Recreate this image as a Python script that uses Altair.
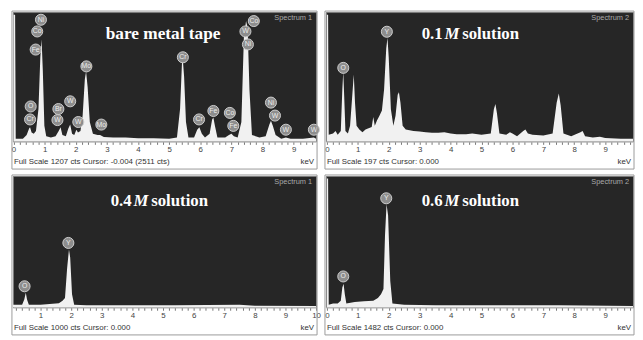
import altair as alt
import pandas as pd

# ---------------- data ----------------
# Panel 1: bare metal tape (Full Scale 1207 cts)
p1_kev = [0.00, 0.05, 0.07, 0.30, 0.42, 0.50, 0.53, 0.58, 0.65, 0.72, 0.80, 0.86, 0.90, 0.94, 0.99,
          1.05, 1.20, 1.35, 1.45, 1.51, 1.57, 1.68, 1.76, 1.82, 1.88, 1.95, 2.02, 2.07, 2.15, 2.22,
          2.29, 2.33, 2.38, 2.45, 2.55, 2.70, 2.78, 2.90, 3.20, 3.60, 4.00, 4.50, 5.00, 5.25, 5.35,
          5.41, 5.44, 5.48, 5.54, 5.62, 5.80, 5.90, 5.97, 6.05, 6.15, 6.30, 6.38, 6.42, 6.47, 6.55,
          6.80, 6.92, 7.00, 7.08, 7.20, 7.32, 7.40, 7.47, 7.52, 7.58, 7.66, 7.90, 8.10, 8.22, 8.27,
          8.33, 8.42, 8.60, 8.75, 8.90, 9.30, 9.65, 9.72]
p1_cts = [1183, 1183, 24, 24, 60, 121, 133, 84, 72, 97, 302, 785, 954, 664, 145,
          48, 36, 48, 97, 133, 60, 48, 121, 157, 72, 60, 109, 84, 97, 241,
          579, 652, 507, 181, 72, 60, 60, 42, 36, 36, 30, 30, 24, 36, 302,
          724, 760, 604, 181, 36, 36, 109, 133, 72, 36, 72, 205, 223, 145, 36,
          36, 60, 72, 48, 36, 181, 966, 1123, 1062, 483, 60, 36, 48, 157, 193,
          145, 60, 24, 36, 24, 24, 36, 24]
p1_lab_el = ["Ni", "Co", "Fe", "O", "Cr", "Br", "W", "W", "W", "Mo", "Mo", "Cr", "Cr", "Fe",
             "Co", "Fe", "W", "Co", "Ni", "Ni", "W", "W", "W"]
p1_lab_kev = [0.88, 0.76, 0.71, 0.55, 0.53, 1.44, 1.82, 1.41, 2.08, 2.34, 2.82, 5.44, 5.96, 6.42,
              6.95, 7.06, 7.45, 7.72, 7.53, 8.27, 8.40, 8.75, 9.65]
p1_lab_cts = [1135, 1026, 857, 326, 205, 302, 374, 199, 181, 700, 157, 785, 205, 284,
              266, 145, 1026, 1123, 905, 362, 241, 109, 109]

# Panel 2: 0.1 M solution (Full Scale 197 cts)
p2_kev = [0.00, 0.04, 0.06, 0.20, 0.28, 0.35, 0.45, 0.50, 0.53, 0.56, 0.60, 0.68, 0.75, 0.82, 0.87,
          0.91, 0.96, 1.05, 1.15, 1.25, 1.35, 1.45, 1.50, 1.55, 1.62, 1.70, 1.78, 1.85, 1.92, 1.96,
          2.00, 2.07, 2.15, 2.22, 2.29, 2.33, 2.38, 2.45, 2.55, 2.80, 3.00, 3.20, 3.40, 3.60, 3.80,
          4.00, 4.20, 4.50, 4.70, 5.00, 5.30, 5.40, 5.45, 5.50, 5.58, 5.80, 5.92, 6.00, 6.15, 6.35,
          6.42, 6.50, 6.65, 7.00, 7.30, 7.43, 7.50, 7.56, 7.65, 7.90, 8.20, 8.27, 8.35, 8.60, 8.83,
          9.00, 9.50, 9.90]
p2_cts = [193, 193, 10, 12, 16, 10, 16, 79, 106, 69, 16, 12, 24, 69, 102,
          59, 24, 18, 14, 18, 20, 22, 37, 24, 32, 39, 47, 79, 142, 158,
          128, 49, 24, 39, 71, 75, 59, 24, 18, 16, 15, 14, 13, 13, 14,
          12, 11, 11, 12, 10, 12, 49, 57, 43, 12, 10, 14, 12, 8, 16,
          18, 12, 10, 9, 12, 59, 73, 55, 12, 8, 14, 16, 8, 6, 7,
          5, 4, 4]
p2_lab_el = ["O", "Y"]
p2_lab_kev = [0.53, 1.94]
p2_lab_cts = [112, 167]

# Panel 3: 0.4 M solution (Full Scale 1000 cts)
p3_kev = [0.10, 0.40, 0.47, 0.52, 0.56, 0.62, 1.00, 1.30, 1.60, 1.72, 1.80, 1.87, 1.93, 1.97, 2.03,
          2.10, 2.50, 5.40, 7.50, 8.00, 10.00]
p3_cts = [20, 20, 60, 110, 60, 20, 20, 25, 30, 50, 70, 300, 440, 380, 100,
          20, 15, 15, 20, 12, 10]
p3_lab_el = ["O", "Y"]
p3_lab_kev = [0.48, 1.91]
p3_lab_cts = [160, 490]

# Panel 4: 0.6 M solution (Full Scale 1482 cts)
p4_kev = [0.00, 0.04, 0.06, 0.20, 0.35, 0.45, 0.50, 0.54, 0.58, 0.63, 0.90, 1.20, 1.50, 1.65, 1.75,
          1.83, 1.88, 1.93, 1.98, 2.05, 2.12, 2.50, 3.50, 5.50, 7.50, 9.90]
p4_cts = [1452, 1452, 30, 44, 44, 74, 222, 267, 148, 44, 59, 67, 74, 104, 148,
          207, 815, 1163, 1037, 296, 44, 30, 22, 22, 22, 15]
p4_lab_el = ["O", "Y"]
p4_lab_kev = [0.53, 1.92]
p4_lab_cts = [348, 1230]

full_scale = [1207, 197, 1000, 1482]
spectrum_names = ["Spectrum 1", "Spectrum 2", "Spectrum 1", "Spectrum 2"]
footers = ["Full Scale 1207 cts Cursor: -0.004  (2511 cts)",
           "Full Scale 197 cts Cursor: 0.000",
           "Full Scale 1000 cts Cursor: 0.000",
           "Full Scale 1482 cts Cursor: 0.000"]
titles = [[("bare metal tape", False)],
          [("0.1", False), ("M", True), ("solution", False)],
          [("0.4", False), ("M", True), ("solution", False)],
          [("0.6", False), ("M", True), ("solution", False)]]
x_domains = [[-0.02, 9.72], [-0.03, 9.9], [0.1, 10.0], [-0.03, 9.9]]

# ---------------- layout ----------------
title_x = [[94], [97, 120, 138], [99, 122, 140], [97, 120, 138]]
title_y = [22, 22, 25, 25]
widths = [307, 311, 307, 311]
heights = [131, 131, 133, 133]

LABEL_EXPR = "abs(datum.value - round(datum.value)) < 0.001 ? format(datum.value, 'd') : ''"


def one_text(txt, x, y, **kw):
    return alt.Chart(pd.DataFrame({"t": [txt]})).mark_text(**kw).encode(
        x=alt.value(x), y=alt.value(y), text="t:N")


def panel(i, kev, cts, lab_el, lab_kev, lab_cts):
    W, H = widths[i], heights[i]
    d0, d1 = x_domains[i]
    ticks = [round(k * 0.2, 1) for k in range(0, 51) if d0 <= round(k * 0.2, 1) <= d1]
    xenc = alt.X("kev:Q",
                 scale=alt.Scale(domain=[d0, d1], nice=False, zero=False),
                 axis=alt.Axis(values=ticks, labelExpr=LABEL_EXPR, title=None, grid=False,
                               tickSize=3, tickColor="#777", domainColor="#cfcfcf",
                               labelFontSize=8, labelColor="#444", labelFont="Liberation Sans",
                               labelPadding=1, labelFlush=False, labelOverlap=False))
    yenc = alt.Y("cts:Q", scale=alt.Scale(domain=[0, full_scale[i]], nice=False), axis=None)

    spec = alt.Chart(pd.DataFrame({"kev": kev, "cts": cts})).mark_area(
        color="#f1f1f1", interpolate="linear", clip=True, opacity=1).encode(x=xenc, y=yenc)

    labdf = pd.DataFrame({"el": lab_el, "kev": lab_kev, "cts": lab_cts})
    circ = alt.Chart(labdf).mark_circle(size=125, fill="#8d8d8d", stroke="#cdcdcd",
                                        strokeWidth=1, opacity=1).encode(x=xenc, y=yenc)
    ltxt = alt.Chart(labdf).mark_text(fontSize=7, color="#ececec", font="Liberation Sans",
                                      baseline="middle").encode(x=xenc, y=yenc, text="el:N")

    layers = [spec, circ, ltxt]
    for (txt, ital), tx in zip(titles[i], title_x[i]):
        layers.append(one_text(txt, tx, title_y[i], align="left", baseline="middle",
                               font="Liberation Serif", fontWeight="bold",
                               fontStyle="italic" if ital else "normal",
                               fontSize=17.5 if i == 0 else 17, color="#ffffff"))
    layers.append(one_text(spectrum_names[i], W - 4, 6, align="right", baseline="middle",
                           font="Liberation Sans", fontSize=7.5, color="#a9a9a9"))
    layers.append(one_text(footers[i], 1, H + 21, align="left", baseline="middle",
                           font="Liberation Sans", fontSize=8, color="#333333"))
    layers.append(one_text("keV", W - 2, H + 21, align="right", baseline="middle",
                           font="Liberation Sans", fontSize=8, color="#333333"))
    border = alt.Chart(pd.DataFrame({"b": [1]})).mark_rect(
        filled=False, stroke="#9a9a9a", strokeWidth=1).encode(
        x=alt.value(-1), x2=alt.value(W + 1), y=alt.value(-1), y2=alt.value(H + 28))
    layers.append(border)
    return alt.layer(*layers).properties(width=W, height=H)


p1 = panel(0, p1_kev, p1_cts, p1_lab_el, p1_lab_kev, p1_lab_cts)
p2 = panel(1, p2_kev, p2_cts, p2_lab_el, p2_lab_kev, p2_lab_cts)
p3 = panel(2, p3_kev, p3_cts, p3_lab_el, p3_lab_kev, p3_lab_cts)
p4 = panel(3, p4_kev, p4_cts, p4_lab_el, p4_lab_kev, p4_lab_cts)

chart = alt.concat(
    p1, p2, p3, p4, columns=2, bounds="flush",
    spacing={"row": 35, "column": 10},
).properties(
    padding={"left": 2, "top": 0, "right": 0, "bottom": 0},
    background="#ffffff",
).configure_view(fill="#262626", stroke="#7a7a7a", strokeWidth=1)

chart.save("out.html", embed_options={"renderer": "svg", "actions": False})
